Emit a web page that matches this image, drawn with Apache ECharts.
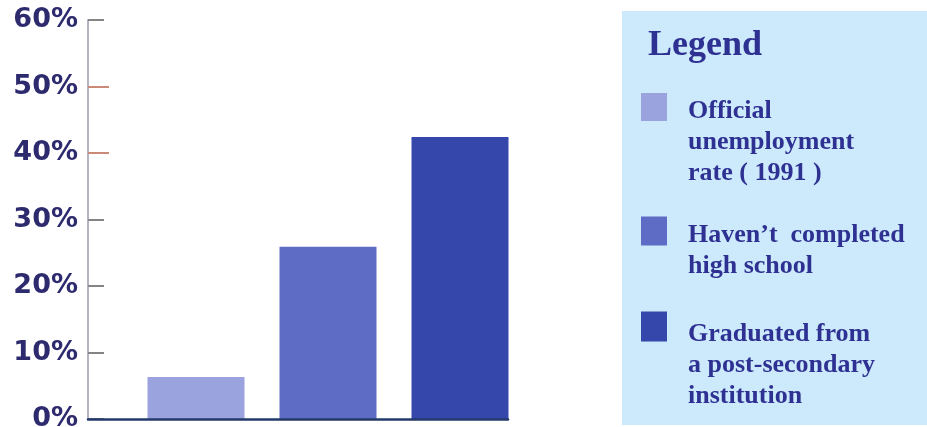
<!DOCTYPE html>
<html>
<head>
<meta charset="utf-8">
<script src="https://cdn.jsdelivr.net/npm/echarts@6/dist/echarts.min.js"></script>
<style>html,body{margin:0;padding:0;background:#fff;}#c{width:927px;height:427px;}</style>
</head>
<body>
<div id="c"></div>
<script>
// ---- data ----
const categories = ['Official unemployment rate (1991)', "Haven't completed high school", 'Graduated from a post-secondary institution'];
const seriesNames = ['Official unemployment rate ( 1991 )', 'Haven\u2019t  completed high school', 'Graduated from a post-secondary institution'];
const legendLines = [
  ['Official', 'unemployment', 'rate ( 1991 )'],
  ['Haven\u2019t  completed', 'high school'],
  ['Graduated from', 'a post-secondary', 'institution']
];
const values = [6.3, 25.9, 42.4];
const yTicks = [0, 10, 20, 30, 40, 50, 60];
const colors = ['#9ba3df', '#5f6cc6', '#3547ab'];

const chart = echarts.init(document.getElementById('c'), null, {renderer: 'canvas'});

const series = values.map((v, i) => ({
  name: seriesNames[i],
  type: 'bar',
  stack: 'all',
  xAxisIndex: 0,
  yAxisIndex: 0,
  barWidth: 97,
  itemStyle: {color: colors[i]},
  data: categories.map((c, j) => (j === i ? v : '-'))
}));

const legendTops = [59.5, 199, 279];
const legendPad = [70, 40, 77];
const legendIconH = [28, 29, 30];
const legends = seriesNames.map((n, i) => ({
  data: [n],
  left: 641,
  top: legendTops[i],
  padding: 0,
  orient: 'vertical',
  icon: 'rect',
  itemWidth: 26,
  itemHeight: legendIconH[i],
  selectedMode: false,
  formatter: () => '{sp| }\n' + legendLines[i].map(s => '{t|' + s + '}').join('\n'),
  textStyle: {
    padding: [0, 0, 0, 16],
    rich: {
      sp: {fontSize: 2, lineHeight: legendPad[i]},
      t: {
        fontFamily: 'Liberation Serif',
        fontWeight: 'bold',
        fontSize: 26,
        lineHeight: 31,
        color: '#2e3192'
      }
    }
  }
}));

chart.setOption({
  animation: false,
  backgroundColor: '#ffffff',
  graphic: [{
    type: 'rect',
    left: 622, top: 11,
    shape: {width: 305, height: 414},
    style: {fill: '#cdeafd'},
    z: -1
  }],
  title: {
    text: 'Legend',
    left: 648, top: 28,
    padding: 0,
    textStyle: {fontFamily: 'Liberation Serif', fontWeight: 'bold', fontSize: 36, color: '#2e3192'}
  },
  legend: legends,
  grid: [
    {left: 130, width: 396, top: 20, height: 399, outerBoundsMode: 'none'},
    {left: 88, width: 420, top: 20, height: 399, outerBoundsMode: 'none'}
  ],
  xAxis: [
    {gridIndex: 0, type: 'category', data: categories, show: false},
    {gridIndex: 1, type: 'value', min: 0, max: 1, z: 5,
     axisLine: {show: true, lineStyle: {color: '#243a6a', width: 2.5}},
     axisTick: {show: false}, axisLabel: {show: false}, splitLine: {show: false}}
  ],
  yAxis: [
    {gridIndex: 0, type: 'value', min: 0, max: 60, interval: 10, show: false},
    {gridIndex: 1, type: 'value', position: 'left', min: 0, max: 60, interval: 10,
     axisLine: {show: true, lineStyle: {color: '#b3b3c4', width: 2}},
     axisTick: {show: true, inside: true, length: 16, lineStyle: {color: '#858585', width: 2}},
     splitLine: {show: false},
     axisLabel: {
       margin: 10,
       fontFamily: 'DejaVu Sans', fontWeight: 'bold', fontSize: 27, color: '#2d2b6e',
       customValues: yTicks,
       formatter: v => v + '%'
     }},
    {gridIndex: 1, type: 'value', position: 'left', offset: 0, min: 0, max: 60, interval: 10,
     axisLine: {show: false},
     axisTick: {show: true, inside: true, length: 21, customValues: [40, 50], lineStyle: {color: '#c98a78', width: 2}},
     axisLabel: {show: false}, splitLine: {show: false}}
  ],
  series: series
});
</script>
</body>
</html>
